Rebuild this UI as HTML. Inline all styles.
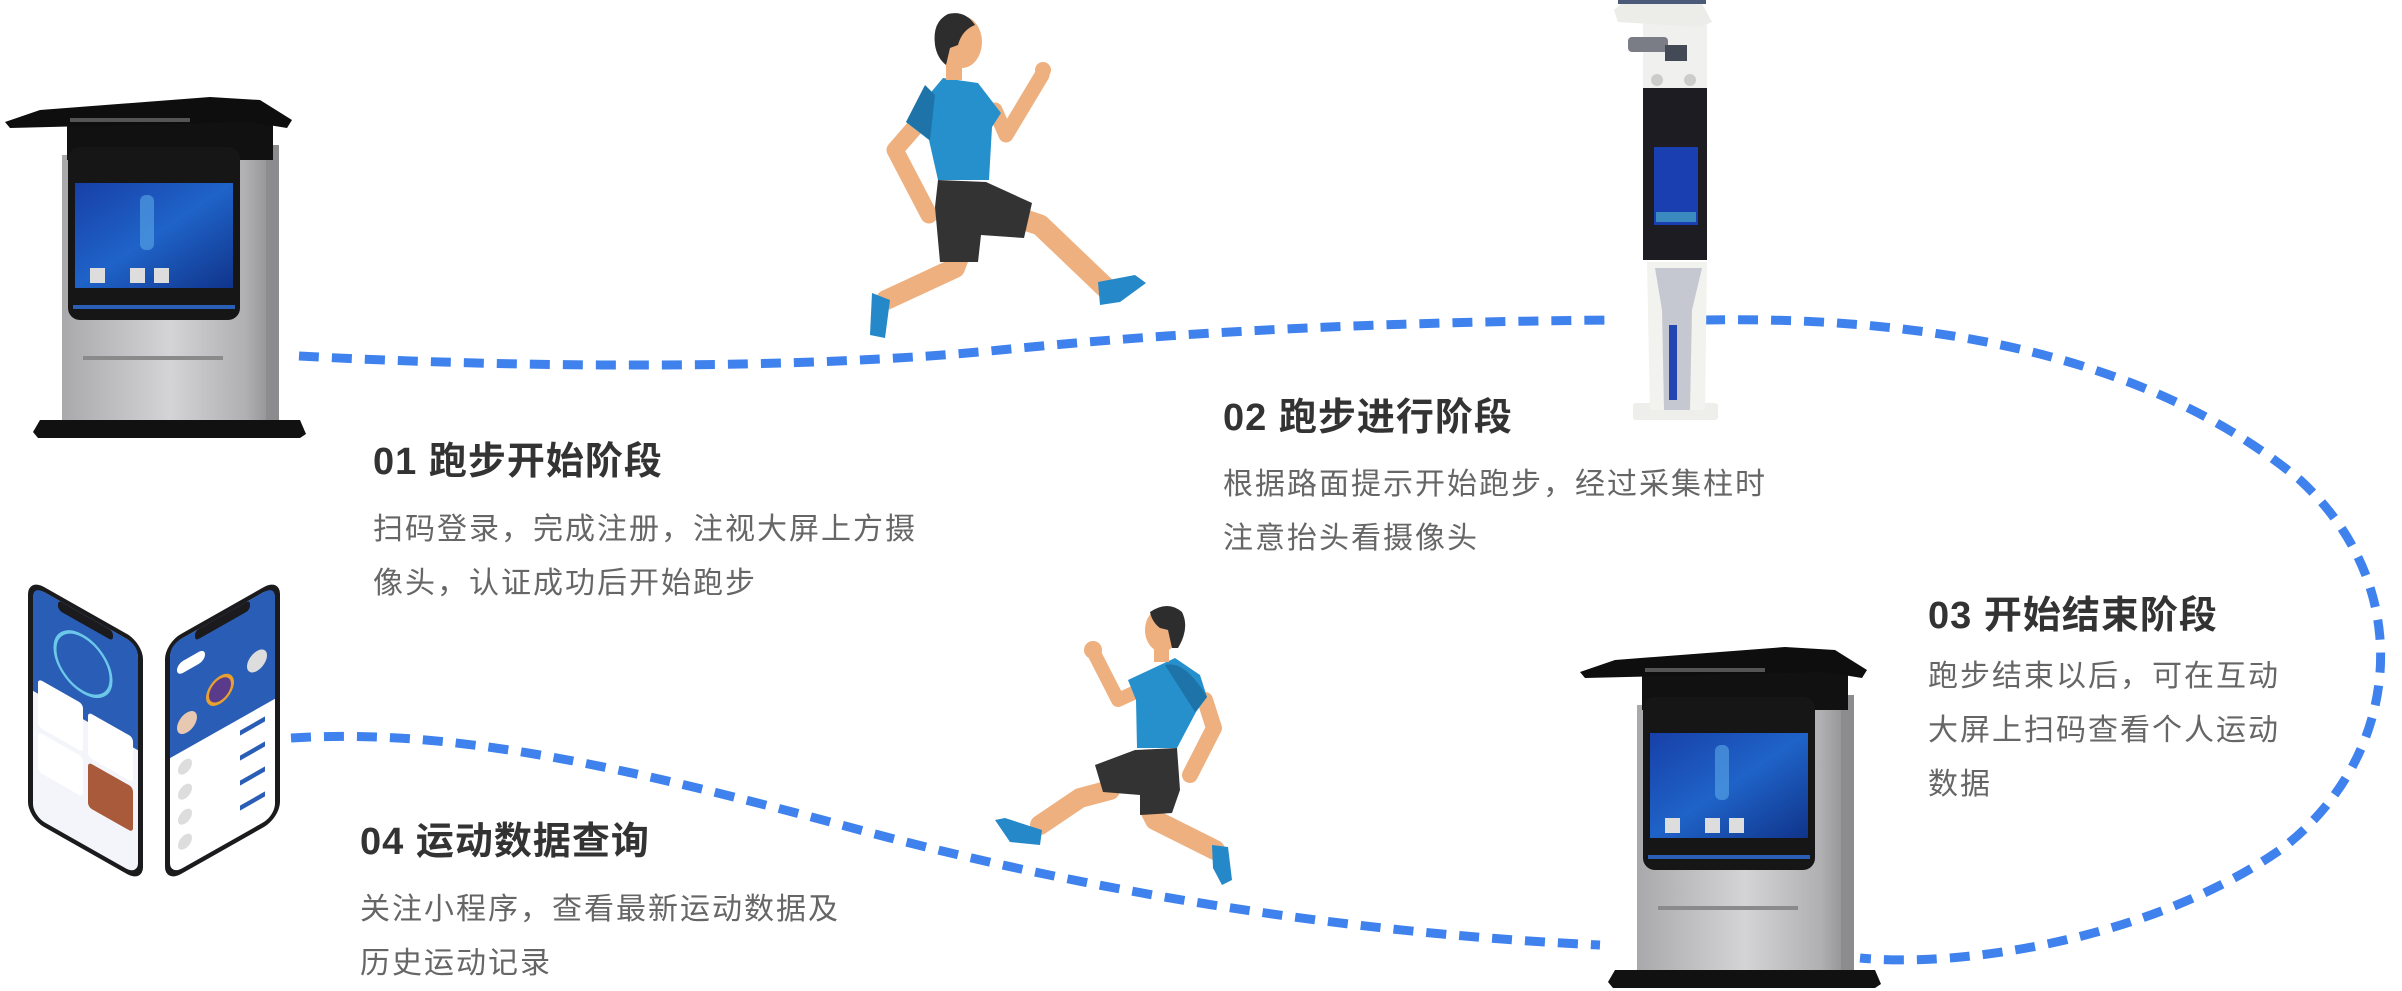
<!DOCTYPE html>
<html><head><meta charset="utf-8">
<style>
html,body{margin:0;padding:0;background:#fff;}
body{width:2402px;height:988px;position:relative;overflow:hidden;font-family:"Liberation Sans","Noto Sans CJK SC",sans-serif;}
svg{position:absolute;left:0;top:0;}
.t{position:absolute;font-size:38px;font-weight:bold;color:#333;line-height:50px;white-space:nowrap;letter-spacing:1px;}
.b{position:absolute;font-size:30px;color:#666;line-height:54px;white-space:nowrap;letter-spacing:2px;}
</style></head><body>
<svg width="2402" height="988" viewBox="0 0 2402 988">
<defs>
<linearGradient id="sil" x1="0" x2="1" y1="0" y2="0">
<stop offset="0" stop-color="#a9a9ab"/><stop offset="0.5" stop-color="#d4d4d6"/><stop offset="0.85" stop-color="#b0b0b2"/><stop offset="1" stop-color="#8a8a8c"/></linearGradient>
<linearGradient id="scr" x1="0" x2="1" y1="0" y2="1">
<stop offset="0" stop-color="#1740a8"/><stop offset="0.5" stop-color="#1f63c8"/><stop offset="1" stop-color="#10348a"/></linearGradient>
<g id="kiosk">
<polygon points="62,155 278,150 278,420 62,420" fill="url(#sil)"/>
<rect x="266" y="145" width="13" height="275" fill="#8c8c8e"/>
<polygon points="67,118 273,112 273,160 67,160" fill="#111"/>
<polygon points="5,122 40,110 210,97 260,100 292,120 287,128 250,122 10,128" fill="#0e0e0e"/>
<rect x="70" y="118" width="120" height="4" fill="#555"/>
<rect x="68" y="147" width="172" height="173" rx="12" fill="#161616"/>
<rect x="75" y="183" width="158" height="105" fill="url(#scr)"/>
<rect x="140" y="195" width="14" height="55" rx="6" fill="#5aa8e8" opacity="0.6"/>
<rect x="90" y="268" width="15" height="15" fill="#ddd"/><rect x="130" y="268" width="15" height="15" fill="#ddd"/><rect x="154" y="268" width="15" height="15" fill="#ddd"/>
<rect x="73" y="305" width="162" height="4" fill="#2a5fb5"/>
<rect x="83" y="356" width="140" height="4" fill="#8a8a8a"/>
<path d="M40,420 L300,420 L306,434 L300,438 L38,438 L33,432 Z" fill="#111"/>
</g>
</defs>
<g fill="none" stroke="#3f82ee" stroke-width="9" stroke-dasharray="20 13">
<path d="M299,356 C520,368 800,370 1000,350 C1200,330 1400,322 1612,320"/>
<path d="M1705,320 C1990,315 2180,380 2300,480 C2420,590 2400,760 2280,850 C2150,940 1960,968 1860,958"/>
<path d="M291,738 C450,728 620,765 860,830 C1120,900 1380,935 1600,945"/>
</g>
<use href="#kiosk"/>
<use href="#kiosk" transform="translate(1575,550)"/>
<g>
<rect x="1633" y="403" width="85" height="17" rx="3" fill="#eeeeea"/>
<polygon points="1647,262 1707,262 1705,410 1650,410" fill="#f2f2ee"/>
<polygon points="1655,268 1702,268 1692,310 1690,410 1664,410 1662,310" fill="#c5c8d0"/>
<rect x="1669" y="325" width="8" height="75" fill="#2446b0"/>
<rect x="1643" y="85" width="64" height="175" fill="#1c1c22"/>
<rect x="1654" y="147" width="44" height="78" fill="#1a3fb0"/>
<rect x="1656" y="212" width="40" height="10" fill="#3a8ac0"/>
<rect x="1643" y="22" width="64" height="66" fill="#f0f0ee"/>
<polygon points="1614,10 1625,0 1700,0 1712,22 1700,27 1618,22" fill="#ecece8"/>
<rect x="1618" y="0" width="88" height="4" fill="#4a5a78"/>
<rect x="1628" y="37" width="40" height="15" rx="4" fill="#7a7d86"/>
<rect x="1665" y="45" width="22" height="16" fill="#444a55"/>
<circle cx="1657" cy="80" r="6" fill="#ccc"/><circle cx="1690" cy="80" r="6" fill="#ccc"/>
</g>
<g transform="translate(28,578) skewY(29.5)">
<rect x="0" y="0" width="115" height="240" rx="16" fill="#1b1b1d"/>
<rect x="5" y="5" width="105" height="230" rx="12" fill="#f3f5fa"/>
<path d="M5,17 Q5,5 17,5 L98,5 Q110,5 110,17 L110,110 L5,110 Z" fill="#2a5db5"/>
<circle cx="55" cy="55" r="28" fill="none" stroke="#6cc8e8" stroke-width="3"/>
<rect x="10" y="95" width="45" height="48" rx="4" fill="#fff"/>
<rect x="60" y="100" width="45" height="45" rx="4" fill="#fff"/>
<rect x="10" y="148" width="45" height="40" rx="4" fill="#fff"/>
<rect x="60" y="150" width="45" height="45" rx="4" fill="#a85a3a"/>
<rect x="30" y="5" width="55" height="10" rx="4" fill="#1b1b1d"/>
</g>
<g transform="translate(165,643) skewY(-29.5)">
<rect x="0" y="0" width="115" height="240" rx="16" fill="#1b1b1d"/>
<rect x="5" y="5" width="105" height="230" rx="12" fill="#fff"/>
<path d="M5,17 Q5,5 17,5 L98,5 Q110,5 110,17 L110,118 L5,118 Z" fill="#2a5db5"/>
<rect x="12" y="28" width="28" height="12" rx="6" fill="#fff"/>
<circle cx="55" cy="78" r="14" fill="#e8a030"/><circle cx="55" cy="78" r="11" fill="#5a3a8a"/>
<circle cx="22" cy="92" r="10" fill="#e8c8b0"/><circle cx="92" cy="70" r="10" fill="#ddd"/>
<g fill="#ddd"><circle cx="20" cy="135" r="7"/><circle cx="20" cy="160" r="7"/><circle cx="20" cy="185" r="7"/><circle cx="20" cy="210" r="7"/></g>
<g fill="#2a5db5"><rect x="75" y="130" width="25" height="5"/><rect x="75" y="155" width="25" height="5"/><rect x="75" y="180" width="25" height="5"/><rect x="75" y="205" width="25" height="5"/></g>
<rect x="30" y="5" width="55" height="10" rx="4" fill="#1b1b1d"/>
</g>
<g stroke-linecap="round" stroke-linejoin="round">
<polyline points="915,127 895,150 929,215" fill="none" stroke="#eeb07e" stroke-width="17"/>
<polyline points="960,255 955,268 886,300" fill="none" stroke="#eeb07e" stroke-width="20"/>
<path d="M872,293 L890,300 L885,338 L870,335 Z" fill="#2588c8"/>
<polyline points="1010,215 1040,225 1108,290" fill="none" stroke="#eeb07e" stroke-width="21"/>
<path d="M1098,282 L1135,275 L1146,283 L1120,302 L1100,305 Z" fill="#2588c8"/>
<polygon points="938,180 986,182 1032,203 1024,238 981,235 978,262 940,262 935,207" fill="#333"/>
<polyline points="995,110 1006,135 1042,75" fill="none" stroke="#eeb07e" stroke-width="15"/>
<circle cx="1043" cy="70" r="8" fill="#eeb07e"/>
<polygon points="943,78 978,83 1001,113 992,127 989,180 938,180 929,140 906,122" fill="#2590cc"/>
<path d="M906,122 L925,85 L935,95 L930,140 Z" fill="#1e74a8"/>
<rect x="946" y="58" width="16" height="22" fill="#eeb07e"/>
<ellipse cx="962" cy="42" rx="20" ry="26" fill="#eeb07e"/>
<path d="M975,25 Q965,10 948,14 Q932,22 935,45 Q937,58 946,65 L950,48 L958,45 Q962,30 975,25 Z" fill="#2d2d2d"/>
</g>
<g stroke-linecap="round" stroke-linejoin="round">
<polyline points="1205,700 1214,728 1190,775" fill="none" stroke="#eeb07e" stroke-width="16"/>
<polyline points="1150,810 1155,820 1215,850" fill="none" stroke="#eeb07e" stroke-width="20"/>
<path d="M1212,845 L1228,847 L1232,880 L1222,885 L1213,868 Z" fill="#2588c8"/>
<polyline points="1110,790 1080,798 1040,825" fill="none" stroke="#eeb07e" stroke-width="20"/>
<path d="M995,820 L1005,818 L1042,830 L1040,845 L1010,842 Z" fill="#2588c8"/>
<polygon points="1095,765 1135,750 1177,748 1180,790 1172,813 1140,815 1140,795 1103,792" fill="#333"/>
<polyline points="1140,690 1118,700 1095,655" fill="none" stroke="#eeb07e" stroke-width="14"/>
<circle cx="1093" cy="650" r="9" fill="#eeb07e"/>
<polygon points="1128,680 1175,658 1200,675 1207,697 1196,712 1177,748 1137,748 1136,700" fill="#2590cc"/>
<path d="M1165,665 Q1185,660 1207,697 L1195,712 Z" fill="#1e74a8"/>
<rect x="1154" y="640" width="15" height="22" fill="#eeb07e"/>
<ellipse cx="1162" cy="630" rx="17" ry="22" fill="#eeb07e"/>
<path d="M1150,612 Q1168,600 1182,612 Q1190,628 1178,648 L1172,648 L1168,630 L1160,628 Q1152,622 1150,612 Z" fill="#2d2d2d"/>
</g>
</svg>
<div class="t" style="left:373px;top:437px;">01 跑步开始阶段</div>
<div class="b" style="left:373px;top:503px;">扫码登录，完成注册，注视大屏上方摄<br>像头，认证成功后开始跑步</div>
<div class="t" style="left:1223px;top:393px;">02 跑步进行阶段</div>
<div class="b" style="left:1223px;top:458px;">根据路面提示开始跑步，经过采集柱时<br>注意抬头看摄像头</div>
<div class="t" style="left:1928px;top:591px;">03 开始结束阶段</div>
<div class="b" style="left:1928px;top:650px;">跑步结束以后，可在互动<br>大屏上扫码查看个人运动<br>数据</div>
<div class="t" style="left:360px;top:817px;">04 运动数据查询</div>
<div class="b" style="left:360px;top:883px;">关注小程序，查看最新运动数据及<br>历史运动记录</div>
</body></html>
